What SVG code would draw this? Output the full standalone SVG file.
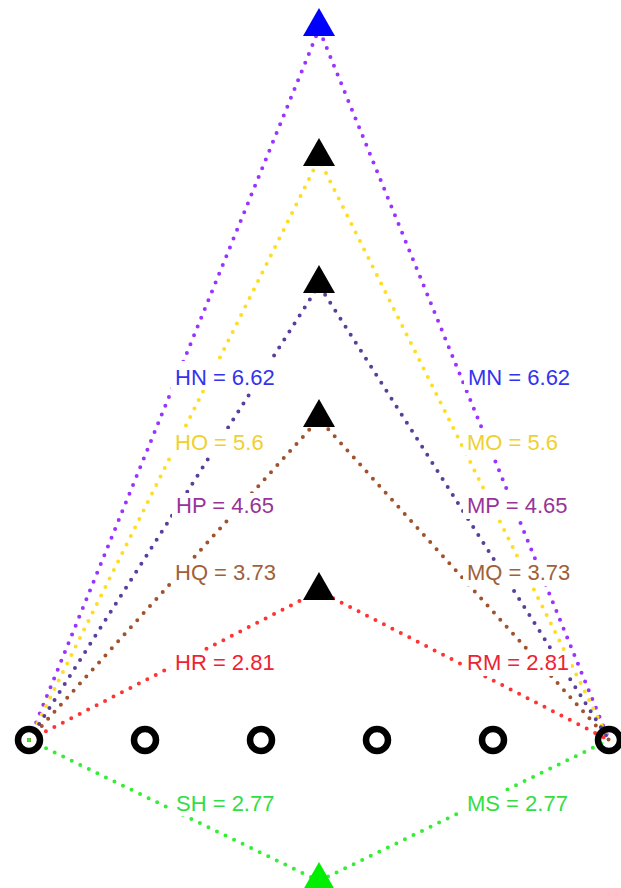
<svg xmlns="http://www.w3.org/2000/svg" width="621" height="888" viewBox="0 0 621 888">
<style>
.ln{fill:none;stroke-width:4;stroke-linecap:round;stroke-dasharray:0 9.5}
.pt{fill:none;stroke:#000;stroke-width:6.5}
.lb{font-family:"Liberation Sans",Arial,sans-serif;font-size:22px}
.bg{fill:#fff}
</style>
<rect width="621" height="888" fill="#fff"/>
<g id="connectors">
<polyline class="ln" stroke="#9933ff" points="29,740 319,29 609,740"/>
<polyline class="ln" stroke="#ffdd22" points="29,740 319,159 609,740"/>
<polyline class="ln" stroke="#5a3f9a" points="29,740 319,285 609,740"/>
<polyline class="ln" stroke="#a0522d" points="29,740 319,419 609,740"/>
<polyline class="ln" stroke="#ff3333" points="29,740 319,591 609,740"/>
<polyline class="ln" stroke="#33ee33" points="29,740 319,881 609,740"/>
</g>
<g id="points">
<circle class="pt" cx="29" cy="740" r="11"/>
<circle class="pt" cx="145" cy="740" r="11"/>
<circle class="pt" cx="261" cy="740" r="11"/>
<circle class="pt" cx="377" cy="740" r="11"/>
<circle class="pt" cx="493" cy="740" r="11"/>
<circle class="pt" cx="609" cy="740" r="11"/>
</g>
<g id="N"><polygon fill="#0000ff" points="319,8 303,36 335,36"/></g>
<g id="O"><polygon fill="#000" points="319,138 303,166 335,166"/></g>
<g id="P"><polygon fill="#000" points="319,265 303,293 335,293"/></g>
<g id="Q"><polygon fill="#000" points="319,399 303,427 335,427"/></g>
<g id="R"><polygon fill="#000" points="319,572 303,600 335,600"/></g>
<g id="S"><polygon fill="#00ee00" points="319,862 303,890 335,890"/></g>
<g id="labels">
<rect class="bg" x="171" y="361" width="110" height="29"/><text class="lb" x="175" y="385" fill="#3333ee">HN = 6.62</text>
<rect class="bg" x="464" y="361" width="107" height="29"/><text class="lb" x="468" y="385" fill="#3333ee">MN = 6.62</text>
<rect class="bg" x="171" y="429" width="95" height="26"/><text class="lb" x="175" y="450" fill="#f0d030">HO = 5.6</text>
<rect class="bg" x="463" y="429" width="98" height="26"/><text class="lb" x="467" y="450" fill="#f0d030">MO = 5.6</text>
<rect class="bg" x="172" y="493" width="108" height="26"/><text class="lb" x="176" y="513" fill="#993399">HP = 4.65</text>
<rect class="bg" x="463" y="493" width="112" height="26"/><text class="lb" x="467" y="513" fill="#993399">MP = 4.65</text>
<rect class="bg" x="171" y="561" width="108" height="25"/><text class="lb" x="175" y="580" fill="#a0603a">HQ = 3.73</text>
<rect class="bg" x="463" y="561" width="112" height="25"/><text class="lb" x="467" y="580" fill="#a0603a">MQ = 3.73</text>
<rect class="bg" x="171" y="651" width="106" height="25"/><text class="lb" x="175" y="670" fill="#ee2233">HR = 2.81</text>
<rect class="bg" x="463" y="651" width="108" height="25"/><text class="lb" x="467" y="670" fill="#ee2233">RM = 2.81</text>
<rect class="bg" x="172" y="791" width="104" height="25"/><text class="lb" x="176" y="811" fill="#33dd44">SH = 2.77</text>
<rect class="bg" x="463" y="791" width="108" height="25"/><text class="lb" x="467" y="811" fill="#33dd44">MS = 2.77</text>
</g>
</svg>
